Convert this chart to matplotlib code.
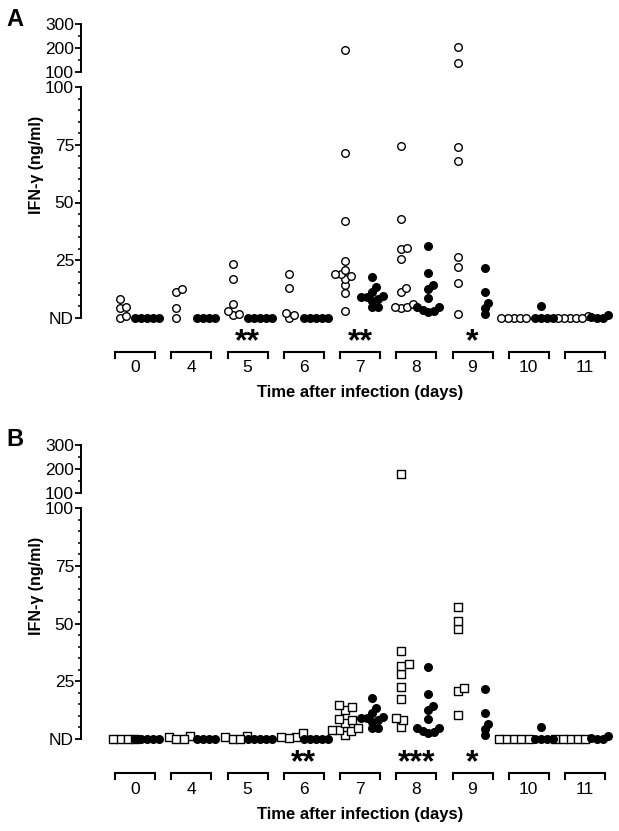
import numpy as np
import matplotlib.pyplot as plt

plt.rcParams['font.family'] = ['Liberation Sans', 'DejaVu Sans']

days = ['0', '4', '5', '6', '7', '8', '9', '10', '11']

# panel A, open circles (ng/ml, 0 = ND)
a_open = [
    [0, 1, 4.5, 4.8, 8.2],
    [0, 4.2, 11.2, 12.5],
    [1.3, 1.7, 3.2, 6.2, 16.9, 23.4],
    [0, 1.4, 2.3, 13, 19.2],
    [3.2, 10.8, 14.3, 17, 18.2, 19, 19, 20.8, 24.6, 42, 71.4, 192],
    [4.3, 4.6, 4.8, 6.1, 11.4, 13.1, 25.5, 29.9, 30.4, 42.9, 74.5],
    [1.7, 15, 22.2, 26.4, 67.8, 74, 136, 205],
    [0, 0, 0, 0, 0],
    [0, 0.8, 0, 0, 0, 0],
]

# panel B, open squares
b_open = [
    [0, 0, 0, 0],
    [0.8, 0, 1.5, 0],
    [0.8, 0, 1.5, 0],
    [0.8, 0.3, 2.5, 0.8],
    [1.7, 3.5, 3.9, 3.9, 4.8, 6.8, 8.2, 8.5, 12.6, 14, 14.7],
    [5.1, 8.2, 9, 17.2, 22.4, 28.1, 31.7, 32.5, 38, 178],
    [10.3, 20.9, 22.2, 47.5, 51, 57],
    [0, 0, 0, 0, 0],
    [0, 0, 0, 0, 0],
]

# filled circles, same in both panels
filled = [
    [0, 0, 0, 0, 0],
    [0, 0, 0, 0],
    [0, 0, 0, 0, 0],
    [0, 0, 0, 0, 0],
    [4.8, 4.9, 7.4, 8.2, 9.1, 9.2, 9.7, 11.4, 13.5, 17.9],
    [2.6, 3.0, 3.6, 4.6, 4.8, 8.8, 12.7, 14.1, 19.5, 31.3],
    [1.6, 4.3, 6.4, 11.1, 21.8],
    [0, 0, 0, 0, 5.3],
    [0, 0, 1.5, 0.3],
]

a_stars = {2: '**', 4: '**', 6: '*'}
b_stars = {3: '**', 5: '***', 6: '*'}

W, H = 619, 831
PPU = 2.31          # px per ng/ml on the lower axis
GRP = 56.25         # px between groups
X0 = 135            # px of first group

fig = plt.figure(figsize=(W / 100, H / 100), dpi=100)


def add_ax(left, top, right, bottom):
    return fig.add_axes([left / W, 1 - bottom / H, (right - left) / W, (bottom - top) / H])


def to_px(v):
    if v <= 100:
        return v * PPU
    return 231 + 15 + (v - 100) * 0.24


def swarm(values, d):
    ys = [to_px(v) for v in values]
    xs = np.zeros(len(values))
    placed = []
    for i in np.argsort(ys, kind='stable'):
        y = ys[i]
        cands = [0.0]
        for px, py in placed:
            dy = abs(y - py)
            if dy < d:
                dx = np.sqrt(d * d - dy * dy)
                cands += [px + dx, px - dx]
        cands.sort(key=lambda c: (round(abs(c), 6), -c))
        for c in cands:
            if all((c - px) ** 2 + (y - py) ** 2 >= d * d - 1e-6 for px, py in placed):
                xs[i] = c
                break
        placed.append((xs[i], y))
    return xs


def style_axis(ax):
    for s in ['top', 'right', 'bottom']:
        ax.spines[s].set_visible(False)
    ax.spines['left'].set_linewidth(1.4)
    ax.set_xticks([])
    ax.tick_params(axis='y', which='major', length=4, width=1.3, pad=1, labelsize=12.5)
    ax.tick_params(axis='y', which='minor', length=2.5, width=1.1)
    ax.set_xlim((81 - X0) / GRP, (610 - X0) / GRP)
    ax.patch.set_alpha(0)


def draw_points(lo, hi, groups, offset, marker, face, s, d):
    for gi, vals in enumerate(groups):
        dx = swarm(vals, d)
        x = gi + (offset + dx) / GRP
        v = np.array(vals, dtype=float)
        up = v > 100
        kw = dict(marker=marker, s=s, facecolors=face, edgecolors='black',
                  linewidths=1.0, clip_on=False, zorder=3)
        lo.scatter(x[~up], v[~up], **kw)
        if up.any():
            hi.scatter(x[up], v[up], **kw)


def panel(dy, letter, open_vals, open_marker, stars):
    hi = add_ax(81, 24 + dy, 610, 72 + dy)
    lo = add_ax(81, 87 + dy, 610, 318 + dy)
    style_axis(hi)
    style_axis(lo)
    hi.set_ylim(100, 300)
    hi.set_yticks([100, 200, 300])
    hi.set_yticks([150, 250], minor=True)
    lo.set_ylim(0, 100)
    lo.set_yticks([0, 25, 50, 75, 100])
    lo.set_yticklabels(['ND', '25', '50', '75', '100'])
    lo.set_yticks(np.arange(5, 100, 5), minor=True)

    if open_marker == 'o':
        draw_points(lo, hi, open_vals, -15, 'o', 'white', 30, 6.2)
    else:
        draw_points(lo, hi, open_vals, -15, 's', 'white', 26, 7.5)
    draw_points(lo, hi, filled, 12, 'o', 'black', 30, 6.0)

    hw = 20 / GRP
    ybr = -34 / PPU
    ytk = -40 / PPU
    for gi, lab in enumerate(days):
        lo.plot([gi - hw, gi - hw, gi + hw, gi + hw], [ytk, ybr, ybr, ytk],
                color='black', lw=1.5, clip_on=False, solid_joinstyle='miter')
        lo.text(gi, -50 / PPU, lab, ha='center', va='center', fontsize=12.5)
    for gi, st in stars.items():
        lo.text(gi, -32 / PPU, st, ha='center', va='baseline', fontsize=23,
                fontweight='bold')
    lo.text(4, -75 / PPU, 'Time after infection (days)', ha='center', va='center',
            fontsize=12, fontweight='bold')

    fig.text(36 / W, 1 - (165 + dy) / H, 'IFN-γ (ng/ml)', rotation=90, ha='center',
             va='center', fontsize=11.5, fontweight='bold')
    fig.text(15 / W, 1 - (19 + dy) / H, letter, ha='center', va='center',
             fontsize=17, fontweight='bold')


panel(0, 'A', a_open, 'o', a_stars)
panel(421, 'B', b_open, 's', b_stars)

fig.savefig('out.png', dpi=100)
